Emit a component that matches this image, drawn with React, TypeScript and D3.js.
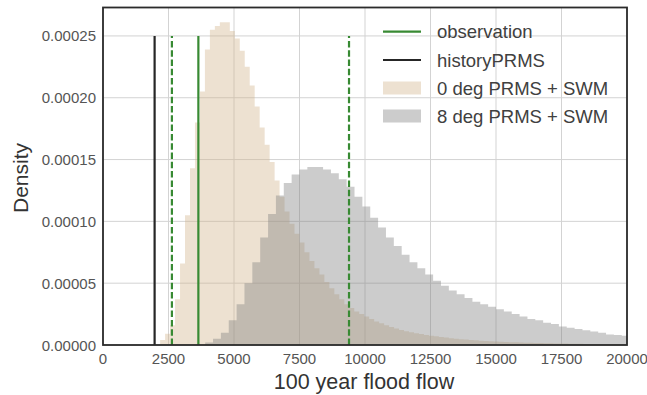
import React from "react";
import * as d3 from "d3";

// ---- data ----
const xTicks = [0, 2500, 5000, 7500, 10000, 12500, 15000, 17500, 20000];
const yTicks = [0, 0.00005, 0.0001, 0.00015, 0.0002, 0.00025];

// 0 deg PRMS + SWM histogram (density per bin)
const tanStart = 2180;
const tanBinWidth = 190;
const tanDensity = [
  0.000004, 0.000009, 0.000016, 0.000037, 0.000066, 0.000105, 0.000143, 0.00018, 0.000205, 0.000239,
  0.000255, 0.000258, 0.000261, 0.000261, 0.000254, 0.000248, 0.000238, 0.000225, 0.00021, 0.000193,
  0.000176, 0.000162, 0.000148, 0.000133, 0.00012, 0.000108, 0.000098, 0.00009, 0.000083, 0.000075,
  0.000068, 0.000062, 0.000057, 0.000051, 0.000046, 0.000041, 0.000037, 0.000033, 0.00003, 0.000027,
  0.000025, 0.000023, 0.000021, 0.000019, 0.0000175, 0.000016, 0.0000145, 0.0000133, 0.0000122, 0.0000112,
  0.0000103, 0.0000095, 0.0000088, 0.0000081, 0.0000075, 0.000007, 0.0000064, 0.000006, 0.0000055, 0.0000051,
  0.0000047, 0.0000044, 0.0000041, 0.0000038, 0.0000035, 0.0000033, 0.0000031, 0.0000029, 0.0000027, 0.0000025,
  0.0000023, 0.0000022, 0.000002, 0.0000019, 0.0000018, 0.0000017, 0.0000016, 0.0000015, 0.0000014, 0.0000013,
  0.0000012, 0.0000012, 0.0000011, 0.000001, 0.000001, 0.0000009, 0.0000009, 0.0000008, 0.0000008, 0.0000007,
  0.0000007, 0.0000007, 0.0000006, 0.0000006,
];

// 8 deg PRMS + SWM histogram (density per bin)
const grayStart = 3900;
const grayBinWidth = 300;
const grayDensity = [
  0.000002, 0.000005, 0.00001, 0.00002, 0.000033, 0.00005, 0.000067, 0.000087, 0.000106, 0.000121,
  0.000131, 0.000138, 0.000142, 0.000144, 0.000144, 0.000142, 0.000139, 0.000134, 0.000128, 0.00012,
  0.000112, 0.000103, 0.000095, 0.000087, 0.00008, 0.000073, 0.000067, 0.000062, 0.000057, 0.000052,
  0.000048, 0.000044, 0.000041, 0.000038, 0.000035, 0.000033, 0.000031, 0.000029, 0.000027, 0.000025,
  0.000023, 0.000021, 0.00002, 0.000018, 0.000017, 0.000015, 0.000014, 0.000013, 0.000012, 0.000011,
  0.00001, 0.0000085, 0.000008, 0.0000075,
];

const historyPRMS = 1970;
const observation = 3640;
const observationBounds = [2630, 9390];
const lineTop = 0.00025;

const legendLabels = ["observation", "historyPRMS", "0 deg PRMS + SWM", "8 deg PRMS + SWM"];

// ---- layout ----
const W = 647;
const H = 395;
const left = 103;
const right = 627;
const top = 7.5;
const bottom = 345;

const GREEN = "#388a33";
const FONT = "'Liberation Sans', Arial, sans-serif";

export default function App() {
  const x = d3.scaleLinear().domain([0, 20000]).range([left, right]);
  const y = d3.scaleLinear().domain([0, 0.000273]).range([bottom, top]);

  const histPath = (start: number, width: number, dens: number[]) => {
    const pts: [number, number][] = dens.map((d, i) => [start + i * width, d]);
    pts.push([start + dens.length * width, dens[dens.length - 1]]);
    const area = d3
      .area<[number, number]>()
      .x((p) => x(p[0]))
      .y0(y(0))
      .y1((p) => y(p[1]))
      .curve(d3.curveStepAfter);
    return area(pts) || "";
  };

  return (
    <svg
      width={W}
      height={H}
      style={{ position: "absolute", left: 0, top: 0, background: "#fff" }}
      fontFamily={FONT}
    >
      <defs>
        <clipPath id="plot">
          <rect x={left} y={top} width={right - left} height={bottom - top} />
        </clipPath>
      </defs>
      {/* grid */}
      {xTicks.map((t) => (
        <line key={"gx" + t} x1={x(t)} x2={x(t)} y1={top} y2={bottom} stroke="#d3d3d3" strokeWidth={1} />
      ))}
      {yTicks.map((t) => (
        <line key={"gy" + t} x1={left} x2={right} y1={y(t)} y2={y(t)} stroke="#d3d3d3" strokeWidth={1} />
      ))}
      <g clipPath="url(#plot)">
        <path d={histPath(tanStart, tanBinWidth, tanDensity)} fill="#d2b48c" fillOpacity={0.4} />
        <path d={histPath(grayStart, grayBinWidth, grayDensity)} fill="#808080" fillOpacity={0.4} />
        {/* vertical lines */}
        <line x1={x(historyPRMS)} x2={x(historyPRMS)} y1={y(0)} y2={y(lineTop)} stroke="#262626" strokeWidth={2.2} />
        {observationBounds.map((v) => (
          <line
            key={"ob" + v}
            x1={x(v)}
            x2={x(v)}
            y1={y(0)}
            y2={y(lineTop)}
            stroke={GREEN}
            strokeWidth={2.2}
            strokeDasharray="6.5,2.8"
          />
        ))}
        <line x1={x(observation)} x2={x(observation)} y1={y(0)} y2={y(lineTop)} stroke={GREEN} strokeWidth={2.2} />
      </g>
      {/* frame */}
      <rect x={left} y={top} width={right - left} height={bottom - top} fill="none" stroke="#2b2b2b" strokeWidth={1.8} />
      {/* tick labels */}
      {xTicks.map((t) => (
        <text key={"tx" + t} x={x(t)} y={364} textAnchor="middle" fontSize={15} fill="#555">
          {t}
        </text>
      ))}
      {yTicks.map((t) => (
        <text
          key={"ty" + t}
          x={left - 7}
          y={y(t)}
          textAnchor="end"
          dominantBaseline="central"
          fontSize={15}
          fill="#555"
        >
          {t.toFixed(5)}
        </text>
      ))}
      {/* axis labels */}
      <text x={(left + right) / 2 - 1} y={389} textAnchor="middle" fontSize={21.5} fill="#333">
        100 year flood flow
      </text>
      <text transform={`translate(28,178) rotate(-90)`} textAnchor="middle" fontSize={21} fill="#333">
        Density
      </text>
      {/* legend */}
      <g>
        <line x1={383} x2={421} y1={31.7} y2={31.7} stroke={GREEN} strokeWidth={2.2} />
        <line x1={383} x2={421} y1={60} y2={60} stroke="#262626" strokeWidth={2.2} />
        <rect x={383} y={81.5} width={38} height={13} fill="#d2b48c" fillOpacity={0.4} />
        <rect x={383} y={109.5} width={38} height={13} fill="#808080" fillOpacity={0.4} />
        {legendLabels.map((l, i) => (
          <text key={l} x={437} y={[31.7, 60, 88, 116][i]} dominantBaseline="central" fontSize={18.5} fill="#404040">
            {l}
          </text>
        ))}
      </g>
    </svg>
  );
}
